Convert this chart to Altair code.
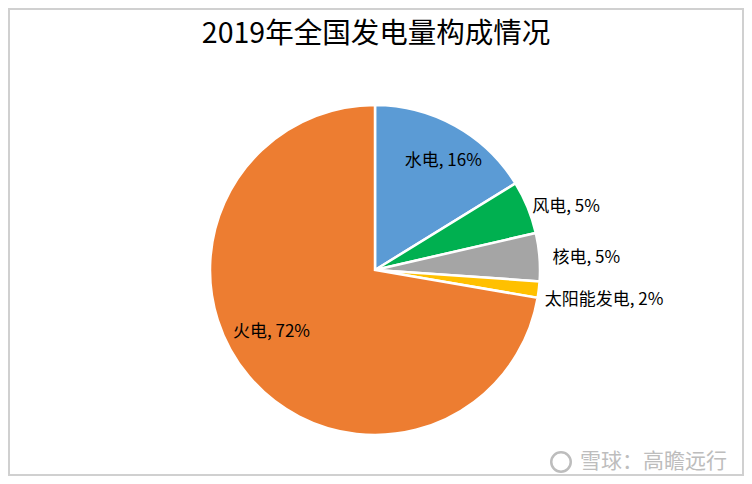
import altair as alt
import pandas as pd

# ---- data ----
categories = ["水电", "风电", "核电", "太阳能发电", "火电"]
values = [16.2, 5.2, 4.7, 1.6, 72.3]
colors = ["#5B9BD5", "#00B050", "#A5A5A5", "#FFC000", "#ED7D31"]
title_text = "2019年全国发电量构成情况"
watermark_text = "雪球：高瞻远行"

df = pd.DataFrame({"category": categories, "value": values, "order": list(range(len(categories)))})

W, H = 736, 468
CX, CY = 367, 262
R = 165
FONT = "Noto Sans CJK SC"

color_scale = alt.Scale(domain=categories, range=colors)

pie = alt.Chart(df).mark_arc(
    outerRadius=R, stroke="white", strokeWidth=2.5, x=CX, y=CY
).encode(
    theta=alt.Theta("value:Q", stack=True),
    order=alt.Order("order:Q"),
    color=alt.Color("category:N", scale=color_scale, legend=None),
)

def label_layer(cat, radius, align, dx=0, dy=0):
    return alt.Chart(df).transform_joinaggregate(
        total="sum(value)"
    ).transform_window(
        cum="sum(value)", sort=[alt.SortField("order")], frame=[None, 0]
    ).transform_calculate(
        mid="datum.cum - datum.value / 2",
        label="datum.category + ', ' + format(datum.value / datum.total, '.0%')",
    ).transform_filter(
        alt.datum.category == cat
    ).mark_text(
        radius=radius, align=align, baseline="middle", dx=dx, dy=dy,
        x=CX, y=CY, font=FONT, fontSize=17, color="#000000"
    ).encode(
        theta=alt.Theta("mid:Q"),
        text="label:N",
    )

labels = [
    label_layer("水电", 128, "center", 6, 3),
    label_layer("风电", 170, "left", 0, 2),
    label_layer("核电", 170, "left", 8, 1),
    label_layer("太阳能发电", 170, "left", 1, 10),
    label_layer("火电", 121, "center", -11, -16),
]

title = alt.Chart(pd.DataFrame({"t": [title_text]})).mark_text(
    x=W / 2, y=26, font=FONT, fontSize=28.5, color="#000000", align="center", baseline="middle"
).encode(text="t:N")

wm = alt.Chart(pd.DataFrame({"t": [watermark_text]})).mark_text(
    x=572, y=454, font=FONT, fontSize=21, color="#BDBDBD", align="left", baseline="middle"
).encode(text="t:N")

logo = alt.Chart(pd.DataFrame({"t": ["x"]})).mark_point(
    x=553, y=454, shape="circle", size=380, filled=False, color="#BDBDBD", strokeWidth=2.5
).encode(opacity=alt.value(1))

border = alt.Chart(pd.DataFrame({"t": [0]})).mark_rect(
    fill=None, stroke="#D0D0D0", strokeWidth=2
).encode(x=alt.value(1), x2=alt.value(W - 1), y=alt.value(1), y2=alt.value(H - 1))

chart = alt.layer(border, pie, *labels, title, wm, logo).properties(
    width=W, height=H, autosize=alt.AutoSizeParams(type="none"), padding=0
).configure_view(stroke=None)

chart.save("out.html", embed_options={"renderer": "svg", "actions": False})
